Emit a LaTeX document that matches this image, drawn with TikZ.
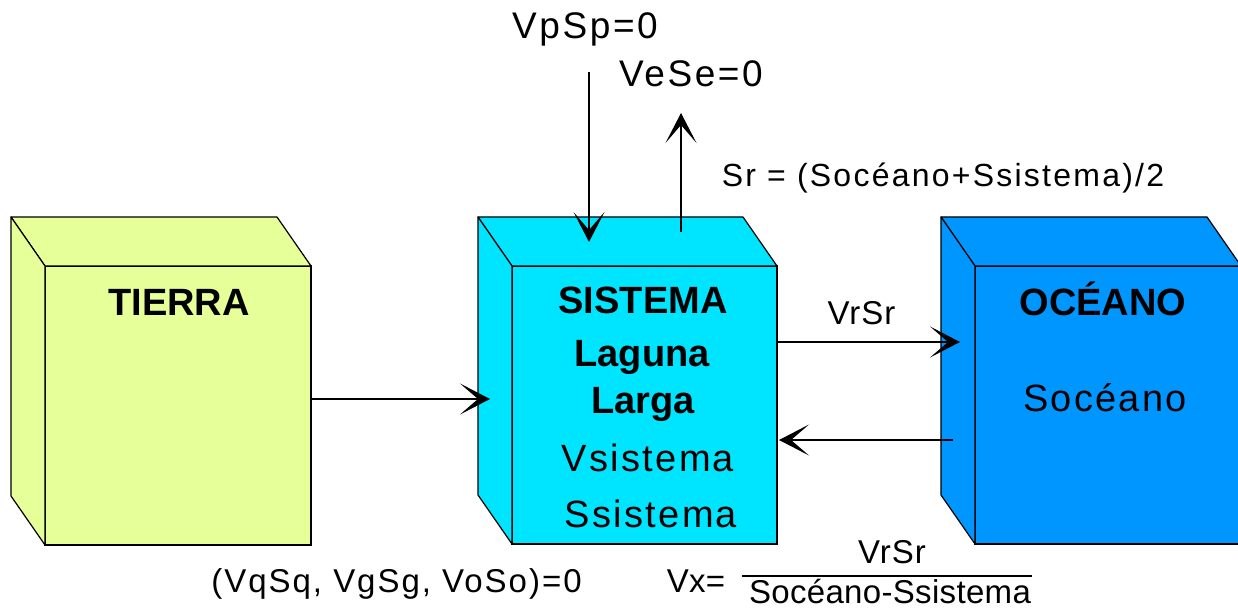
\documentclass[tikz,border=0pt]{standalone}
\usepackage{fontspec}
\setmainfont{Liberation Sans}
\newfontfamily\lsA[LetterSpace=6]{Liberation Sans}
\newfontfamily\lsB[LetterSpace=7]{Liberation Sans}
\newfontfamily\lsC[LetterSpace=3]{Liberation Sans}
\newfontfamily\lsD[LetterSpace=1]{Liberation Sans}
\usetikzlibrary{arrows.meta}
\definecolor{tierracol}{RGB}{230,255,153}
\definecolor{sistcol}{RGB}{0,229,255}
\definecolor{oceancol}{RGB}{0,150,255}
\tikzset{
  face/.style={draw=black, line width=1.2pt, minimum width=266pt, minimum height=279pt, inner sep=0pt, outer sep=0pt},
  arr/.style={line width=1.2pt, -{Stealth[length=30pt,width=31pt,inset=18pt]}},
  big/.style={font=\fontsize{38}{40}\selectfont\bfseries, anchor=base, inner sep=0pt},
  reg/.style={font=\fontsize{38}{40}\selectfont\lsA, anchor=base, inner sep=0pt},
  midtxt/.style={font=\fontsize{37}{40}\selectfont\lsB, anchor=base, inner sep=0pt},
  smtxt/.style={font=\fontsize{32}{36}\selectfont\lsB, anchor=base, inner sep=0pt},
  lbl/.style={font=\fontsize{33}{36}\selectfont\lsA, anchor=base, inner sep=0pt},
  lblc/.style={font=\fontsize{33}{36}\selectfont\lsC, anchor=base, inner sep=0pt},
  lbld/.style={font=\fontsize{33}{36}\selectfont\lsD, anchor=base, inner sep=0pt},
}
\newcommand\mkcube[2]{%
  \filldraw[fill=#2, draw=black, line width=1.2pt, line join=round]
    (#1.north west) -- ++(-34,-49) -- ([shift={(-34,-49)}]#1.north east) -- (#1.north east) -- cycle;
  \filldraw[fill=#2, draw=black, line width=1.2pt, line join=round]
    (#1.north west) -- ++(-34,-49) -- ([shift={(-34,-49)}]#1.south west) -- (#1.south west) -- cycle;
}
\begin{document}
\begin{tikzpicture}[x=1pt,y=-1pt]
\useasboundingbox[fill=white] (0,0) rectangle (1238,609);
% boxes
\node[face, fill=tierracol] (tierra) at (178,405.5) {};
\node[face, fill=sistcol, minimum width=265pt, minimum height=278pt] (sistema) at (644.5,405) {};
\node[face, fill=oceancol, minimum width=266pt, minimum height=278pt] (oceano) at (1108,405) {};
\mkcube{tierra}{tierracol}
\mkcube{sistema}{sistcol}
\mkcube{oceano}{oceancol}
% box texts
\node[big] (tierraT) at (179,315) {TIERRA};
\node[big] (sistT) at (643,313) {SISTEMA};
\node[big] (lag) at (642,366) {Laguna};
\node[big] (larga) at (643,413) {Larga};
\node[reg] (vsis) at (648,471) {Vsistema};
\node[reg] (ssis) at (651,527) {Ssistema};
\node[big] (oceT) at (1103,315) {OCÉANO};
\node[reg] (soc) at (1105,411) {Socéano};
% outside labels
\node[midtxt] (vpsp) at (585,39) {VpSp=0};
\node[midtxt] (vese) at (691,87) {VeSe=0};
\node[smtxt] (sr) at (943,187) {Sr = (Socéano+Ssistema)/2};
\node[lblc] (vrsr) at (861.5,324) {VrSr};
\node[lbl] (vq) at (396.5,592) {(VqSq, VgSg, VoSo)=0};
\node[lbld] (vx) at (696,592) {Vx=};
\node[lblc] (num) at (892,563) {VrSr};
\node[lbld] (den) at (890,603) {Socéano-Ssistema};
\draw[line width=1.2pt] (742,576) -- (1032,576);
% free ends
\coordinate (pin) at (589,72);
\coordinate (pout) at (589,242);
\coordinate (ein) at (681,232);
\coordinate (eout) at (681,113);
% connectors
\draw[arr] (pin) -- (pout);
\draw[arr] (ein) -- (eout);
\draw[arr, shorten >=22pt] (tierra.east |- 0,399) -- (sistema.west |- 0,399);
\draw[arr, shorten >=15pt] (sistema.east |- 0,342) -- (oceano.west |- 0,342);
\draw[arr, shorten <=22pt, shorten >=2pt] (oceano.west |- 0,440) -- (sistema.east |- 0,440);
\end{tikzpicture}
\end{document}
